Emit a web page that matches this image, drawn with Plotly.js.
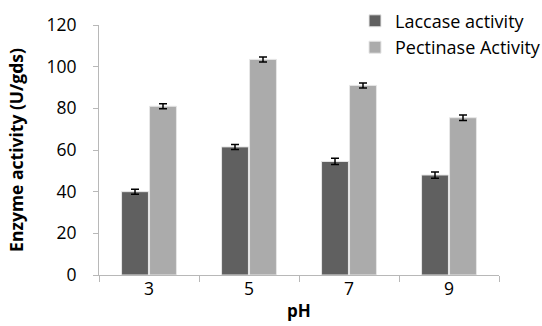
<!DOCTYPE html>
<html>
<head>
<meta charset="utf-8">
<script src="https://cdn.plot.ly/plotly-3.0.1.min.js"></script>
<style>html,body{margin:0;padding:0;background:#fff;}#chart{width:542px;height:326px;}</style>
</head>
<body>
<div id="chart"></div>
<script>
const categories = ["3", "5", "7", "9"];
const laccase = [40, 61.5, 54.5, 48];
const laccaseErr = [1.2, 1.2, 1.5, 1.5];
const pectinase = [81, 103.5, 91, 75.5];
const pectinaseErr = [1.2, 1.2, 1.2, 1.3];
const seriesNames = ["Laccase activity", "Pectinase Activity"];

const font = "'Open Sans', Lato, sans-serif";

const traces = [
  {
    type: "bar", name: seriesNames[0], x: categories, y: laccase, legendgroup: "a",
    marker: {color: "#606060", line: {color: "#e6e6e6", width: 1}},
    error_y: {type: "data", array: laccaseErr, visible: true, color: "#000", thickness: 1.5, width: 4}
  },
  {
    type: "bar", name: seriesNames[1], x: categories, y: pectinase, legendgroup: "b",
    marker: {color: "#ababab", line: {color: "#e6e6e6", width: 1}},
    error_y: {type: "data", array: pectinaseErr, visible: true, color: "#000", thickness: 1.5, width: 4}
  }
];

const layout = {
  width: 542, height: 326,
  margin: {l: 99, r: 43, t: 25, b: 51, autoexpand: false},
  paper_bgcolor: "#fff", plot_bgcolor: "#fff",
  font: {family: font, size: 17.5, color: "#000"},
  barmode: "group", bargap: 0.44, bargroupgap: 0.04,
  showlegend: true,
  legend: {xref: "container", yref: "container", x: 0.655, y: 0.992, xanchor: "left", yanchor: "top",
    traceorder: "grouped", itemwidth: 30, tracegroupgap: 0,
    font: {family: font, size: 18}, bgcolor: "rgba(0,0,0,0)"},
  xaxis: {
    type: "category", showline: true, linecolor: "#b8b8b8", linewidth: 1, automargin: false,
    ticks: "outside", tickson: "boundaries", ticklen: 6, tickcolor: "#b8b8b8",
    showgrid: false, zeroline: false, ticklabelstandoff: -2,
    tickfont: {family: font, size: 17.5},
    title: {text: "<b>pH</b>", font: {family: font, size: 17}, standoff: 6}
  },
  yaxis: {
    range: [0, 120], dtick: 20, showline: true, linecolor: "#b8b8b8", linewidth: 1, automargin: false,
    ticks: "outside", ticklen: 5, tickcolor: "#b8b8b8",
    showgrid: false, zeroline: false, ticklabelstandoff: 13,
    tickfont: {family: font, size: 17.5},
    title: {text: "<b>Enzyme activity (U/gds)</b>", font: {family: font, size: 17.5}, standoff: 18}
  }
};

Plotly.newPlot("chart", traces, layout, {displayModeBar: false, staticPlot: true});
</script>
</body>
</html>
